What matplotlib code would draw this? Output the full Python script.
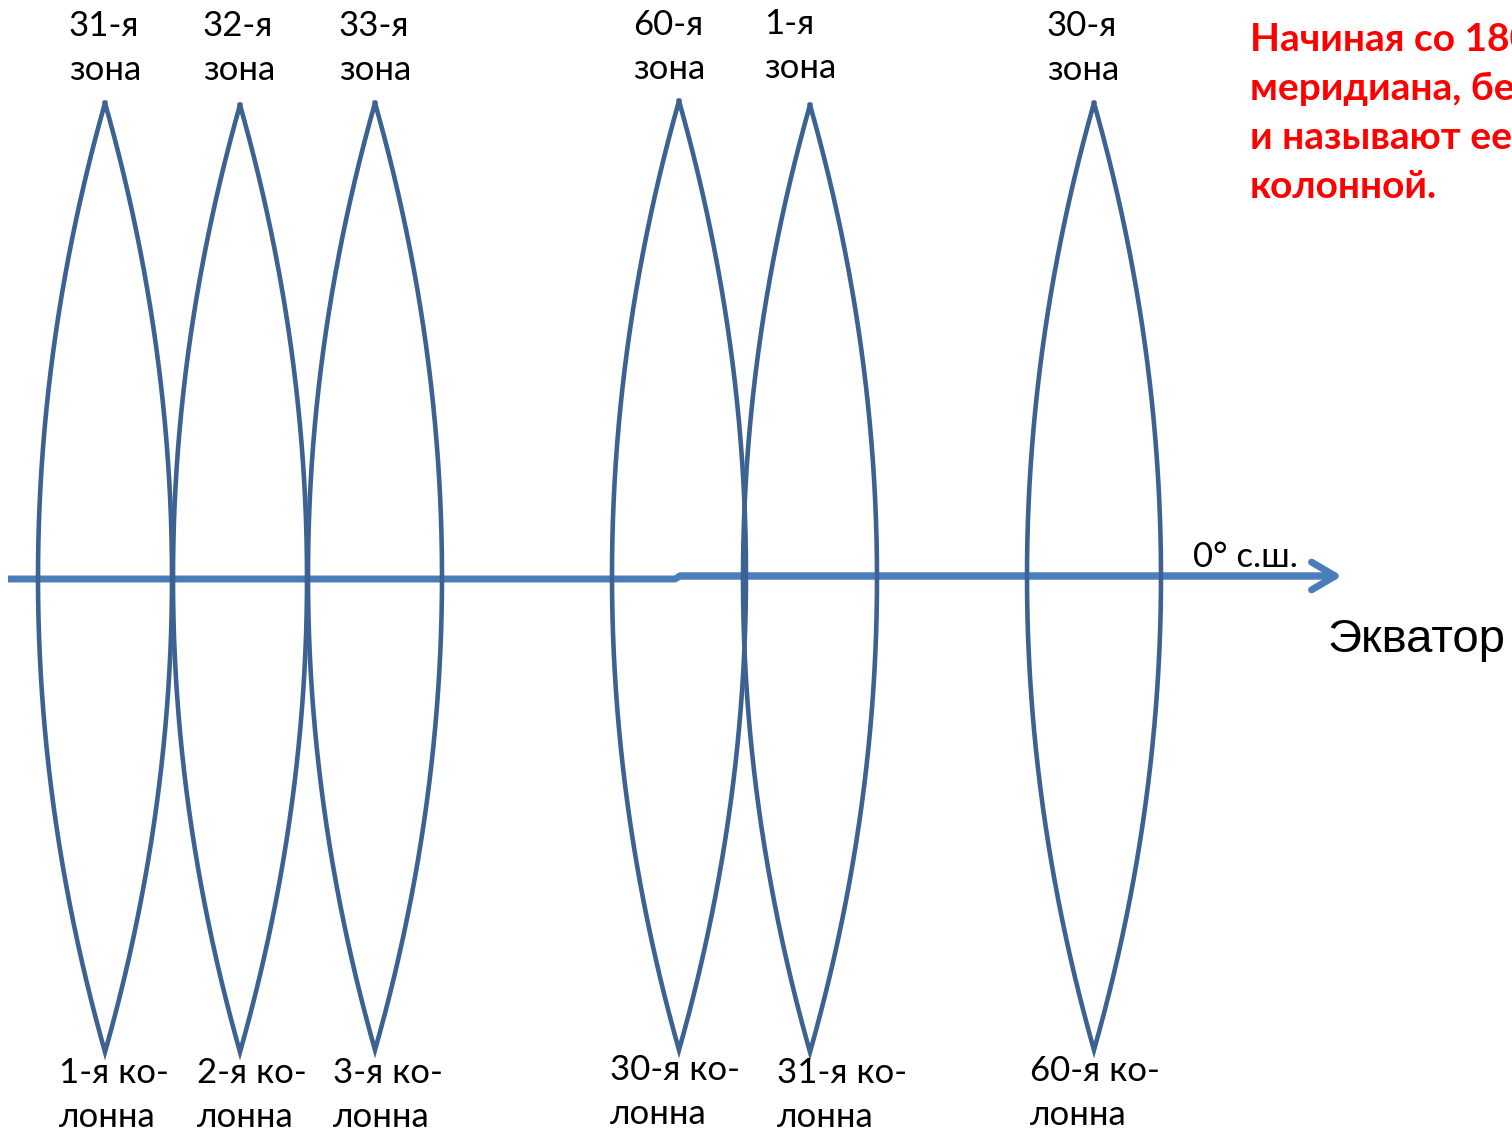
import numpy as np
import matplotlib.pyplot as plt

# lens-shaped zones (pixel-like coordinates of the slide)
zone_centers = [105, 240, 375, 679, 810, 1094]
zone_tops = [103, 105, 103, 101, 105, 103]
zone_bottoms = [1052, 1052, 1050, 1050, 1052, 1050]
zone_halfwidth = 67

top_labels = ['31-я\nзона', '32-я\nзона', '33-я\nзона', '60-я\nзона', '1-я\nзона', '30-я\nзона']
top_label_x = [69, 203, 339, 633, 764, 1047]
top_label_y = [48, 48, 48, 47, 46, 48]

bottom_labels = ['1-я ко-\nлонна', '2-я ко-\nлонна', '3-я ко-\nлонна',
                 '30-я ко-\nлонна', '31-я ко-\nлонна', '60-я ко-\nлонна']
bottom_label_x = [59, 197, 333, 610, 777, 1030]
bottom_label_y = [1095, 1095, 1095, 1092, 1095, 1093]

equator_x = [8, 675, 680, 1336]
equator_y = [579, 579, 576, 576]

note = 'Начиная со 180\nмеридиана, бе\nи называют ее\nколонной.'

lens_color = '#3c6291'
eq_color = '#4a7ebb'

fig = plt.figure(figsize=(15.12, 11.31), dpi=100)
ax = fig.add_axes([0, 0, 1, 1])
ax.set_xlim(0, 1512)
ax.set_ylim(1131, 0)
ax.axis('off')

# equator with a small step, then arrow head
ax.plot(equator_x, equator_y, color=eq_color, lw=5, solid_capstyle='butt', zorder=1)
ax.annotate('', xy=(equator_x[-1] + 6, equator_y[-1]), xytext=(equator_x[-2], equator_y[-1]),
            arrowprops=dict(arrowstyle='->,head_length=1.7,head_width=1.0',
                            color=eq_color, lw=5, capstyle='round', joinstyle='round',
                            shrinkA=0, shrinkB=0), zorder=1)

for c, t, b in zip(zone_centers, zone_tops, zone_bottoms):
    y = np.linspace(t, b, 200)
    mid = (t + b) / 2
    h = (b - t) / 2
    w = zone_halfwidth * (1 - ((y - mid) / h) ** 2)
    ax.plot(np.r_[c - w, (c + w)[::-1]], np.r_[y, y[::-1]], color=lens_color,
            lw=3.3, solid_joinstyle='miter', zorder=2)

for s, x, y in zip(top_labels, top_label_x, top_label_y):
    ax.text(x, y, s, fontsize=25, family='Lato', ha='left', va='center', linespacing=1.45)

for s, x, y in zip(bottom_labels, bottom_label_x, bottom_label_y):
    ax.text(x, y, s, fontsize=25, family='Lato', ha='left', va='center', linespacing=1.45)

ax.text(1193, 557, '0° с.ш.', fontsize=25, family='Lato', ha='left', va='center')
ax.text(1328, 640, 'Экватор', fontsize=34, family='Liberation Sans', ha='left', va='center')

ax.text(1250, 113, note, fontsize=28, family='Lato', fontweight='bold', color='#ff0000',
        ha='left', va='center', linespacing=1.48)

fig.savefig('out.png', dpi=100)
